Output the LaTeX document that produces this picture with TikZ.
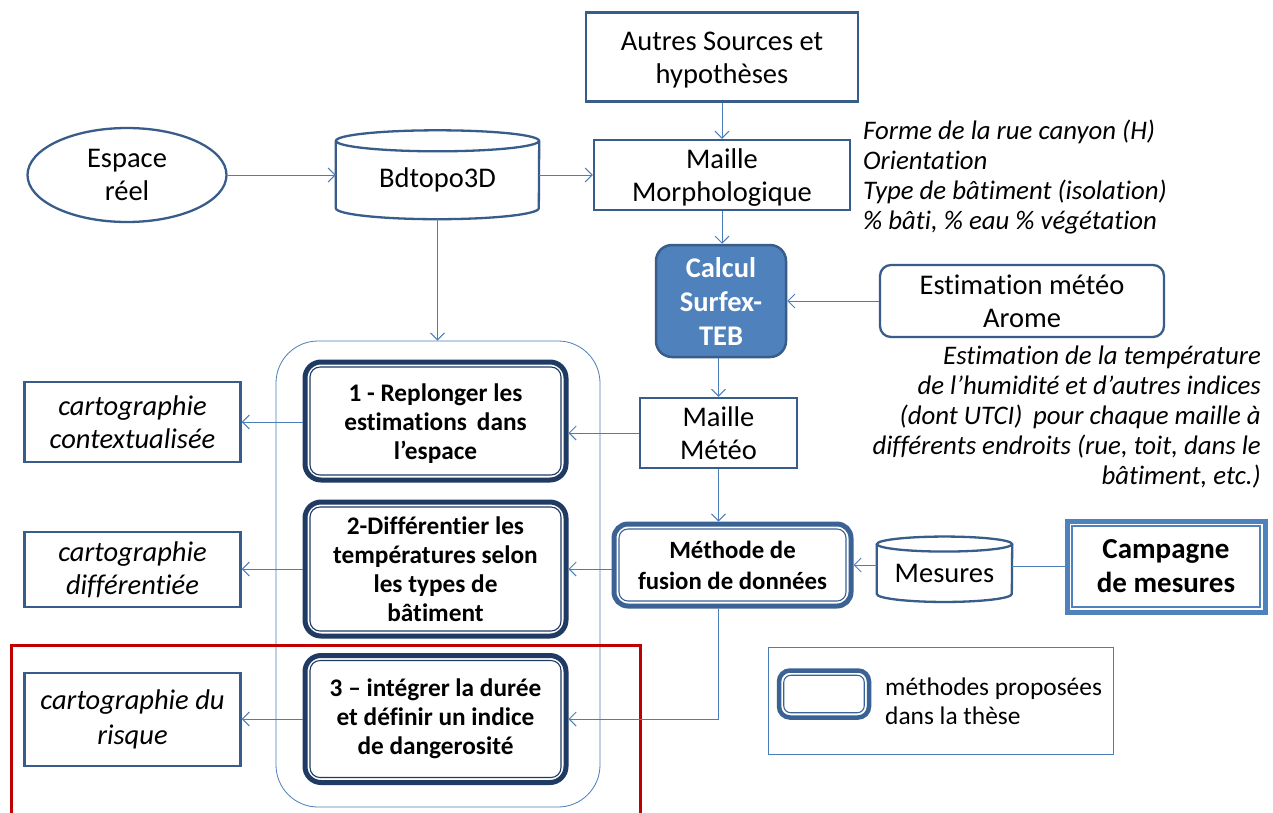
\documentclass[tikz,border=0pt]{standalone}
\usepackage{fontspec}
\setmainfont{Carlito}[Ligatures=NoCommon]
\usetikzlibrary{arrows.meta,calc,shapes.geometric}
\definecolor{bord}{HTML}{385D8A}
\definecolor{arr}{HTML}{4A7EBB}
\definecolor{navy}{HTML}{1F3A63}
\definecolor{methc}{HTML}{3B6294}
\definecolor{fillb}{HTML}{4F81BD}
\definecolor{redc}{HTML}{C00000}
\begin{document}
\begin{tikzpicture}[x=1pt,y=-1pt,
  reg/.style={font=\fontsize{28.5}{33}\selectfont},
  ital/.style={font=\itshape\fontsize{26.8}{30}\selectfont},
  bx/.style={draw=bord, line width=2.3pt, fill=white, align=center, inner sep=0pt, reg},
  dbl/.style={draw=navy, line width=5pt, rounded corners=16pt, fill=white, align=center, inner sep=0pt,
     font=\bfseries\fontsize{25.3}{29}\selectfont},
  inl/.style={line width=1.1pt, rounded corners=10pt},
  cylline/.style={draw=bord, line width=2.3pt},
  con/.style={draw=arr, line width=1pt, -{Straight Barb[length=7pt,width=14pt,line width=1pt]}},
  plain/.style={draw=arr, line width=1pt}
]
\useasboundingbox[fill=white] (0,0) rectangle (1273,812);

% container
\node[draw=arr, line width=0.8pt, rounded corners=42pt, minimum width=324pt, minimum height=466pt] (grp) at (438,574) {};

% top row
\node[bx, minimum width=272pt, minimum height=89pt] (aut) at (722,57) {\rule{0pt}{25pt}Autres Sources et\\hypothèses};
\node[ellipse, draw=bord, line width=2.3pt, minimum width=199pt, minimum height=94pt, inner sep=0pt, align=center, reg] (esp) at (127,175) {Espace\\réel};
\node[minimum width=203pt, minimum height=78pt, inner sep=0pt, reg] (bd) at (437.5,180) {Bdtopo3D};
\draw[cylline] (bd.north west) -- ([yshift=11pt]bd.south west)
   arc[start angle=180, end angle=360, x radius=101.5pt, y radius=11pt]
   -- (bd.north east);
\draw[cylline] (bd.north) ellipse[x radius=101.5pt, y radius=10.5pt];
\node[bx, minimum width=256pt, minimum height=70pt] (mor) at (722,175) {\rule{0pt}{24pt}Maille\\Morphologique};
\node[ital, anchor=north west, align=left, inner sep=0pt] (mtxt) at (863,120) {Forme de la rue canyon (H)\\Orientation\\Type de bâtiment (isolation)\\\% bâti, \% eau \% végétation};

% calcul
\node[draw=bord, fill=fillb, line width=2.5pt, rounded corners=16pt, minimum width=130pt, minimum height=112pt, inner sep=0pt, align=center, text=white, font=\bfseries\fontsize{28.5}{34}\selectfont] (calc) at (721,301) {Calcul\\Surfex-\\TEB};
\node[bx, rounded corners=11pt, minimum width=284pt, minimum height=72pt] (aro) at (1022,301) {Estimation météo\\Arome};
\node[ital, anchor=north east, align=right, inner sep=0pt] (atxt) at (1261,346) {Estimation de la température\\de l’humidité et d’autres indices\\(dont UTCI)\, pour chaque maille à\\différents endroits (rue, toit, dans le\\bâtiment, etc.)};

\node[bx, minimum width=157pt, minimum height=70pt] (mm) at (718.5,433) {Maille\\Météo};

% methode
\node[dbl, draw=methc, rounded corners=14pt, minimum width=237pt, minimum height=82pt, font=\bfseries\fontsize{24.8}{31}\selectfont] (meth) at (732.5,565) {Méthode de\\fusion de données};
\draw[inl, draw=methc, rounded corners=9pt] ([shift={(7.5pt,-7.5pt)}]meth.north west) rectangle ([shift={(-7.5pt,7.5pt)}]meth.south east);

% mesures cylinder
\node[minimum width=135pt, minimum height=57.5pt, inner sep=0pt, reg] (mes) at (944.5,573) {Mesures};
\draw[cylline] (mes.north west) -- ([yshift=8pt]mes.south west)
   arc[start angle=180, end angle=360, x radius=67.5pt, y radius=8pt]
   -- (mes.north east);
\draw[cylline] (mes.north) ellipse[x radius=67.5pt, y radius=7.5pt];

% campagne
\node[draw=fillb, line width=5pt, fill=white, minimum width=198pt, minimum height=91pt, inner sep=0pt, align=center, font=\bfseries\fontsize{29}{34}\selectfont] (camp) at (1166,566.5) {Campagne\\de mesures};
\draw[draw=fillb, line width=1.1pt] ([shift={(7.5pt,-7.5pt)}]camp.north west) rectangle ([shift={(-7.5pt,7.5pt)}]camp.south east);

% proposed method boxes
\node[dbl, minimum width=261pt, minimum height=118pt] (b1) at (435.5,421) {\rule{0pt}{22pt}1 - Replonger les\\estimations\, dans\\l’espace};
\node[dbl, minimum width=261pt, minimum height=134pt] (b2) at (435.5,569) {2-Différentier les\\températures selon\\les types de\\bâtiment};
\node[dbl, minimum width=261pt, minimum height=127pt] (b3) at (435.5,719) {3 – intégrer la durée\\et définir un indice\\de dangerosité};
\foreach \n in {b1,b2,b3}
  \draw[inl, draw=navy] ([shift={(7.5pt,-7.5pt)}]\n.north west) rectangle ([shift={(-7.5pt,7.5pt)}]\n.south east);

% cartographie boxes
\node[bx, font=\itshape\fontsize{28.5}{33}\selectfont, minimum width=216pt, minimum height=80pt] (c1) at (132.5,422) {cartographie\\contextualisée};
\node[bx, font=\itshape\fontsize{28.5}{33}\selectfont, minimum width=216pt, minimum height=75pt] (c2) at (132.5,569.5) {cartographie\\différentiée};
\node[bx, font=\itshape\fontsize{28.5}{35}\selectfont, minimum width=216pt, minimum height=93pt] (c3) at (132.5,719.5) {cartographie du\\risque};

% red frame
\draw[draw=redc, line width=3pt] (11,830) -- (11,645) -- (640,645) -- (640,830);

% legend
\node[draw=arr, line width=0.8pt, minimum width=345pt, minimum height=107pt] (leg) at (940.5,700.5) {};
\node[dbl, draw=methc, line width=4.5pt, rounded corners=11pt, minimum width=90pt, minimum height=47pt] (legb) at (824,694) {};
\draw[inl, draw=methc, rounded corners=7pt] ([shift={(7pt,-7pt)}]legb.north west) rectangle ([shift={(-7pt,7pt)}]legb.south east);
\node[anchor=west, align=left, inner sep=0pt, font=\fontsize{25.4}{29}\selectfont] (legt) at (885,701) {méthodes proposées\\dans la thèse};

% connectors
\draw[con] (esp.east) -- (esp.east -| bd.west);
\draw[con] (bd.east |- mor.west) -- (mor.west);
\draw[con] (aut.south) -- (mor.north);
\draw[con] (mor.south) -- (mor.south |- calc.north);
\draw[con] (aro.west) -- (aro.west -| calc.east);
\draw[con] (mm.north |- calc.south) -- (mm.north);
\draw[con] (bd.south) -- (bd.south |- grp.north);
\draw[con] (mm.west) -- (mm.west -| b1.east);
\draw[con] (mm.south) -- (mm.south |- meth.north);
\draw[con] (mes.west |- meth.east) -- (meth.east);
\draw[plain] (camp.west) -- (camp.west -| mes.east);
\draw[con] (meth.west |- b2.east) -- (b2.east);
\draw[con] (mm.south |- meth.south) |- (b3.east);
\draw[con] (b1.west |- c1.east) -- (c1.east);
\draw[con] (b2.west) -- (b2.west -| c2.east);
\draw[con] (b3.west) -- (b3.west -| c3.east);
\end{tikzpicture}
\end{document}
